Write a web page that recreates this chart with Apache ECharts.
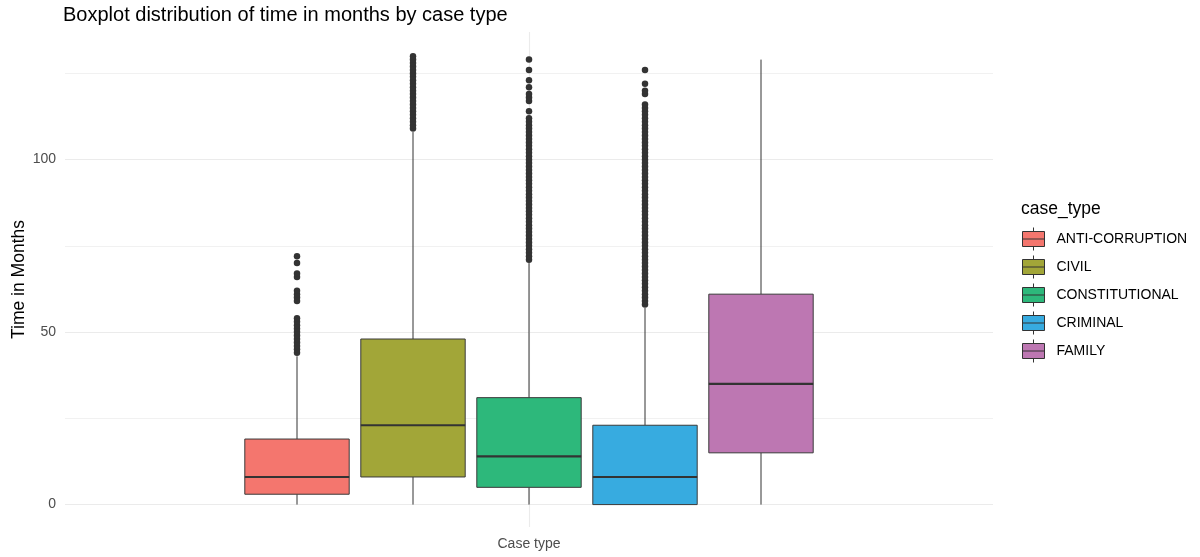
<!doctype html>
<html>
<head>
<meta charset="utf-8">
<style>
    html, body { margin: 0; padding: 0; background: #fff; }
    #chart-panel { width: 1200px; height: 557px; }
</style>
<script src="https://cdn.jsdelivr.net/npm/echarts@6/dist/echarts.min.js"></script>
</head>
<body>
<div id="chart-panel"></div>
<script type="text/javascript">
// five-number summaries per case type (months)
var caseTypes = ['ANTI-CORRUPTION', 'CIVIL', 'CONSTITUTIONAL', 'CRIMINAL', 'FAMILY'];
var whiskerLow = [0, 0, 0, 0, 0];
var quartile1 = [3, 8, 5, 0, 15];
var medians = [8, 23, 14, 8, 35];
var quartile3 = [19, 48, 31, 23, 61];
var whiskerHigh = [43, 108, 70, 57, 129];

// outlier points
var outAnti = [44, 45, 46, 47, 48, 49, 50, 51, 52, 53, 54, 59, 60, 61, 62, 66, 67, 70, 72];
var outCivil = [109, 110, 111, 112, 113, 114, 115, 116, 117, 118, 119, 120, 121, 122, 123, 124,
    125, 126, 127, 128, 129, 130];
var outConst = [71, 72, 73, 74, 75, 76, 77, 78, 79, 80, 81, 82, 83, 84, 85, 86, 87, 88, 89, 90,
    91, 92, 93, 94, 95, 96, 97, 98, 99, 100, 101, 102, 103, 104, 105, 106, 107, 108, 109, 110,
    111, 112, 114, 117, 118, 119, 121, 123, 126, 129];
var outCrim = [58, 59, 60, 61, 62, 63, 64, 65, 66, 67, 68, 69, 70, 71, 72, 73, 74, 75, 76, 77,
    78, 79, 80, 81, 82, 83, 84, 85, 86, 87, 88, 89, 90, 91, 92, 93, 94, 95, 96, 97, 98, 99, 100,
    101, 102, 103, 104, 105, 106, 107, 108, 109, 110, 111, 112, 113, 114, 115, 116, 119, 120, 122, 126];
var outFamily = [];
var outliers = [outAnti, outCivil, outConst, outCrim, outFamily];

var majorGrid = [0, 50, 100];
var minorGrid = [25, 75, 125];
var yTicks = [0, 50, 100];

var colors = ['#F4766E', '#A2A638', '#2DB87B', '#37ABE0', '#BD77B2'];
var boxWidth = 0.9;
var font = 'Liberation Sans, Arial, sans-serif';

var myChart = echarts.init(document.getElementById('chart-panel'));

function renderBox(params, api) {
    var x = api.value(0);
    var lo = api.coord([x, api.value(1)]);
    var b1 = api.coord([x, api.value(2)]);
    var md = api.coord([x, api.value(3)]);
    var b3 = api.coord([x, api.value(4)]);
    var hi = api.coord([x, api.value(5)]);
    var half = api.size([boxWidth, 0])[0] / 2;
    var ln = { stroke: '#333333', lineWidth: 1 };
    return {
        type: 'group',
        children: [
            { type: 'line', shape: { x1: lo[0], y1: lo[1], x2: b1[0], y2: b1[1] }, style: ln },
            { type: 'line', shape: { x1: b3[0], y1: b3[1], x2: hi[0], y2: hi[1] }, style: ln },
            { type: 'rect', shape: { x: b3[0] - half, y: b3[1], width: half * 2, height: b1[1] - b3[1] },
              style: { fill: api.visual('color'), stroke: '#3a3a3a', lineWidth: 1 } },
            { type: 'line', shape: { x1: md[0] - half, y1: md[1], x2: md[0] + half, y2: md[1] },
              style: { stroke: '#333333', lineWidth: 2.2 } }
        ]
    };
}

var series = [];
var gridLines = [];
majorGrid.forEach(function (v) {
    gridLines.push({ yAxis: v, lineStyle: { color: '#ebebeb', width: 1.1, type: 'solid' } });
});
minorGrid.forEach(function (v) {
    gridLines.push({ yAxis: v, lineStyle: { color: '#f1f1f1', width: 1, type: 'solid' } });
});
gridLines.push({ xAxis: 3, lineStyle: { color: '#ebebeb', width: 1.1, type: 'solid' } });

series.push({
    name: 'grid',
    type: 'line',
    data: [],
    silent: true,
    markLine: {
        z: 0,
        silent: true,
        symbol: ['none', 'none'],
        label: { show: false },
        animation: false,
        lineStyle: { type: 'solid' },
        data: gridLines
    }
});

for (var i = 0; i < caseTypes.length; i++) {
    series.push({
        name: caseTypes[i],
        type: 'custom',
        z: 2,
        renderItem: renderBox,
        itemStyle: { color: colors[i], borderColor: '#333333', borderWidth: 1 },
        encode: { x: 0, y: [1, 2, 3, 4, 5] },
        data: [[i + 1, whiskerLow[i], quartile1[i], medians[i], quartile3[i], whiskerHigh[i]]]
    });
}

var pts = [];
outliers.forEach(function (arr, k) {
    arr.forEach(function (v) { pts.push([k + 1, v]); });
});
series.push({
    name: 'outliers',
    type: 'scatter',
    z: 3,
    symbolSize: 6.5,
    itemStyle: { color: '#333333', opacity: 1 },
    data: pts
});

var option = {
    animation: false,
    textStyle: { fontFamily: font },
    title: [{
        text: 'Boxplot distribution of time in months by case type',
        left: 63,
        top: 5,
        padding: 0,
        textStyle: { fontSize: 20, fontWeight: 'normal', color: '#000', fontFamily: font }
    }, {
        text: 'case_type',
        left: 1021,
        top: 200,
        padding: 0,
        textStyle: { fontSize: 17.5, fontWeight: 'normal', color: '#000', fontFamily: font }
    }],
    legend: {
        data: caseTypes,
        orient: 'vertical',
        left: 1022,
        top: 227,
        padding: 0,
        itemWidth: 22,
        itemHeight: 23,
        itemGap: 4,
        icon: 'path://M0,4H22V19H0Z M0,11.5H22 M11,0V4 M11,19V23',
        itemStyle: { borderColor: '#333333', borderWidth: 1 },
        textStyle: { fontSize: 14, color: '#000', fontFamily: font, padding: [0, 0, 0, 7] },
        selectedMode: false
    },
    grid: { left: 65, right: 207, top: 32, bottom: 30, containLabel: false, outerBoundsMode: 'none' },
    xAxis: {
        type: 'value',
        min: -1,
        max: 7,
        name: 'Case type',
        nameLocation: 'middle',
        nameGap: 10,
        nameMoveOverlap: false,
        nameTextStyle: { fontSize: 14, color: '#4d4d4d', fontFamily: font },
        axisLine: { show: false },
        axisTick: { show: false },
        axisLabel: { show: false },
        splitLine: { show: false }
    },
    yAxis: {
        type: 'value',
        min: -6.5,
        max: 137,
        name: 'Time in Months',
        nameLocation: 'middle',
        nameGap: 37,
        nameMoveOverlap: false,
        nameTextStyle: { fontSize: 17.5, color: '#000', fontFamily: font },
        axisLine: { show: false },
        axisTick: { show: false },
        axisLabel: { customValues: yTicks, fontSize: 14, color: '#4d4d4d', margin: 9, fontFamily: font },
        splitLine: { show: false }
    },
    series: series
};

myChart.setOption(option);
</script>
</body>
</html>
